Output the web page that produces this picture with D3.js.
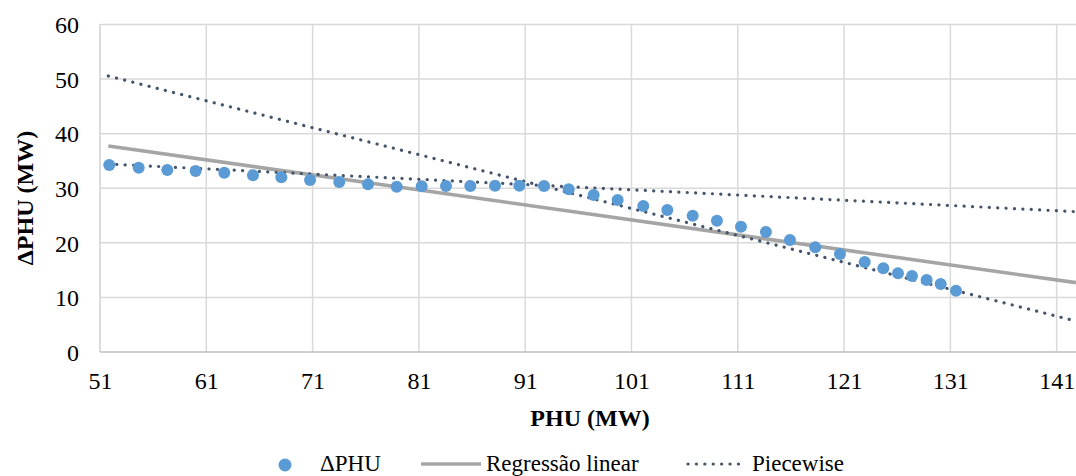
<!DOCTYPE html>
<html>
<head>
<meta charset="utf-8">
<script src="https://cdn.jsdelivr.net/npm/d3@7"></script>
<style>
  html, body { margin: 0; padding: 0; background: #fff; }
  svg { display: block; font-family: "Liberation Serif", "Times New Roman", serif; }
</style>
</head>
<body>
<div id="chart"></div>
<script>
// ---- data ----
const phu = [51.87, 54.64, 57.33, 60.00, 62.69, 65.39, 68.06, 70.76, 73.51, 76.21,
             78.91, 81.26, 83.55, 85.84, 88.16, 90.45, 92.77, 95.09, 97.44, 99.70,
             102.11, 104.37, 106.76, 109.04, 111.30, 113.65, 115.91, 118.29, 120.61, 122.94,
             124.69, 126.07, 127.39, 128.77, 130.09, 131.53];
const dphu = [34.26, 33.77, 33.35, 33.17, 32.85, 32.37, 32.01, 31.51, 31.15, 30.72,
              30.29, 30.35, 30.40, 30.40, 30.45, 30.45, 30.40, 29.81, 28.77, 27.85,
              26.75, 26.02, 24.97, 24.06, 22.96, 21.99, 20.52, 19.18, 17.96, 16.49,
              15.34, 14.42, 13.92, 13.19, 12.46, 11.23];
const regX = [51.78, 142.82];
const regY = [37.74, 12.70];
const pieceSteepX = [51.78, 142.82];
const pieceSteepY = [50.57, 5.66];
const pieceFlatX = [51.78, 142.82];
const pieceFlatY = [34.44, 25.71];
const xTicks = [51, 61, 71, 81, 91, 101, 111, 121, 131, 141];
const yTicks = [0, 10, 20, 30, 40, 50, 60];
const legendLabels = ["\u0394PHU", "Regress\u00e3o linear", "Piecewise"];
const xTitle = "PHU (MW)";
const yTitle = "\u0394PHU (MW)";

// ---- layout ----
const W = 1076, H = 476;
const mLeft = 100, mRight = 1076, mTop = 24.5, mBottom = 352;
const blue = "#5B9BD5", gray = "#A5A5A5", dark = "#44546A", grid = "#D9D9D9";

const svg = d3.select("#chart").append("svg").attr("width", W).attr("height", H);

const x = d3.scaleLinear().domain([51, 142.82]).range([mLeft, mRight]);
const y = d3.scaleLinear().domain([0, 60]).range([mBottom, mTop]);

// gridlines
svg.append("g").selectAll("line").data(yTicks.filter(d => d > 0)).join("line")
  .attr("x1", mLeft).attr("x2", mRight)
  .attr("y1", d => y(d)).attr("y2", d => y(d))
  .attr("stroke", grid).attr("stroke-width", 1.5);
svg.append("g").selectAll("line").data(xTicks.filter(d => d > 51)).join("line")
  .attr("x1", d => x(d)).attr("x2", d => x(d))
  .attr("y1", mTop).attr("y2", mBottom)
  .attr("stroke", grid).attr("stroke-width", 1.5);

// axes lines
svg.append("line").attr("x1", mLeft).attr("x2", mLeft).attr("y1", mTop).attr("y2", mBottom)
  .attr("stroke", "#D0D0D0").attr("stroke-width", 1.5);
svg.append("line").attr("x1", mLeft).attr("x2", mRight).attr("y1", mBottom).attr("y2", mBottom)
  .attr("stroke", "#BFBFBF").attr("stroke-width", 1.5);

// axis tick labels via d3 axes
const xAxis = d3.axisBottom(x).tickValues(xTicks).tickSize(0).tickPadding(0).tickFormat(d3.format("d"));
const gx = svg.append("g").attr("transform", `translate(0,${mBottom})`).call(xAxis);
gx.select(".domain").remove();
gx.selectAll("text").attr("dy", null).attr("y", 37).attr("font-size", 24)
  .attr("font-family", "Liberation Serif").attr("fill", "#000");

const yAxis = d3.axisLeft(y).tickValues(yTicks).tickSize(0).tickPadding(0).tickFormat(d3.format("d"));
const gy = svg.append("g").attr("transform", `translate(${mLeft},0)`).call(yAxis);
gy.select(".domain").remove();
gy.selectAll("text").attr("x", -21).attr("dy", "0.34em").attr("font-size", 24)
  .attr("font-family", "Liberation Serif").attr("fill", "#000");

// clip
svg.append("clipPath").attr("id", "clip").append("rect")
  .attr("x", mLeft).attr("y", mTop - 10).attr("width", mRight - mLeft).attr("height", mBottom - mTop + 10);
const plot = svg.append("g").attr("clip-path", "url(#clip)");

const line = d3.line().x(d => x(d[0])).y(d => y(d[1]));

plot.append("path").datum(d3.zip(regX, regY)).attr("d", line)
  .attr("fill", "none").attr("stroke", gray).attr("stroke-width", 3.6);

[[pieceSteepX, pieceSteepY], [pieceFlatX, pieceFlatY]].forEach(([xs, ys]) => {
  plot.append("path").datum(d3.zip(xs, ys)).attr("d", line)
    .attr("fill", "none").attr("stroke", dark).attr("stroke-width", 3.2)
    .attr("stroke-linecap", "round").attr("stroke-dasharray", "0.1 8.3");
});

plot.append("g").selectAll("circle").data(d3.zip(phu, dphu)).join("circle")
  .attr("cx", d => x(d[0])).attr("cy", d => y(d[1])).attr("r", 6)
  .attr("fill", blue);

// axis titles
svg.append("text").attr("x", 590).attr("y", 426).attr("text-anchor", "middle")
  .attr("font-size", 24).attr("font-weight", "bold").text(xTitle);
svg.append("text").attr("transform", "translate(33,198) rotate(-90)").attr("text-anchor", "middle")
  .attr("font-size", 24).attr("font-weight", "bold").text(yTitle);

// legend
const ly = 464;
const lg = svg.append("g");
lg.append("circle").attr("cx", 285).attr("cy", ly + 1).attr("r", 6.5).attr("fill", blue);
lg.append("text").attr("x", 320).attr("y", ly + 7).attr("font-size", 23).text(legendLabels[0]);
lg.append("line").attr("x1", 421).attr("x2", 481).attr("y1", ly).attr("y2", ly)
  .attr("stroke", gray).attr("stroke-width", 3.6);
lg.append("text").attr("x", 486).attr("y", ly + 7).attr("font-size", 23).text(legendLabels[1]);
lg.append("line").attr("x1", 688).attr("x2", 742).attr("y1", ly).attr("y2", ly)
  .attr("stroke", dark).attr("stroke-width", 3.2).attr("stroke-linecap", "round")
  .attr("stroke-dasharray", "0.1 8.3");
lg.append("text").attr("x", 752).attr("y", ly + 7).attr("font-size", 23).text(legendLabels[2]);
</script>
</body>
</html>
